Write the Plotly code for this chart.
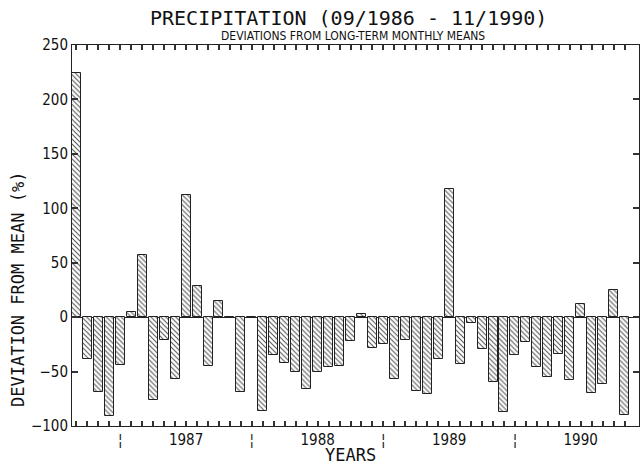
import pandas as pd
import plotly.graph_objects as go

# Monthly precipitation deviations from long-term monthly means (%), 09/1986 - 11/1990
months = pd.date_range("1986-09-01", "1990-11-01", freq="MS")
deviation_pct = [
    224, -38, -69, -91,                                          # 1986 Sep-Dec
    -44, 5, 57, -76, -21, -57, 112, 29, -45, 15, 0, -69,         # 1987
    0, -86, -35, -42, -50, -66, -50, -46, -45, -22, 2.5, -28,    # 1988
    -25, -57, -21, -68, -71, -38, 118, -43, -5, -29, -60, -87,   # 1989
    -35, -23, -46, -55, -34, -58, 12, -70, -61, 25, -90,         # 1990 Jan-Nov
]
y_ticks = [-100, -50, 0, 50, 100, 150, 200, 250]

idx = list(range(len(months)))

# Bottom axis text: year name in July, a break mark in January, blank otherwise
tick_text = []
for m in months:
    if m.month == 7:
        tick_text.append(str(m.year))
    elif m.month == 1:
        tick_text.append("¦")
    else:
        tick_text.append("")

PLOT_FONT = "DejaVu Sans Mono"
NARROW_FONT = "Liberation Sans Narrow, DejaVu Sans Condensed, sans-serif"
INK = "#222222"

fig = go.Figure(
    go.Bar(
        x=idx,
        y=deviation_pct,
        width=0.82,
        marker=dict(
            color="white",
            line=dict(color=INK, width=1),
            pattern=dict(shape="\\", size=3.5, solidity=0.3,
                         fgcolor="#555555", bgcolor="white"),
        ),
        showlegend=False,
    )
)

axis_common = dict(
    ticks="inside",
    tickcolor="#333333",
    tickwidth=2,
    showline=True,
    linecolor=INK,
    linewidth=1,
    mirror="allticks",
    showgrid=False,
    tickfont=dict(family=NARROW_FONT, size=15, color="#111111"),
)

fig.update_layout(
    template="none",
    width=640,
    height=465,
    margin=dict(l=72, r=1, t=45, b=39),
    paper_bgcolor="white",
    plot_bgcolor="white",
    bargap=0,
    xaxis=dict(
        range=[-0.41, len(months) + 0.32],
        tickmode="array",
        tickvals=idx,
        ticktext=tick_text,
        ticklen=5,
        zeroline=False,
        tickangle=0,
        **axis_common,
    ),
    yaxis=dict(
        range=[-100, 250],
        tickmode="array",
        tickvals=y_ticks,
        ticklen=6,
        zeroline=True,
        zerolinecolor=INK,
        zerolinewidth=1,
        **axis_common,
    ),
    annotations=[
        dict(text="PRECIPITATION (09/1986 - 11/1990)", xref="paper", yref="paper",
             x=0.487, y=1.072, xanchor="center", yanchor="middle", showarrow=False,
             font=dict(family=PLOT_FONT, size=20, color="#111111")),
        dict(text="DEVIATIONS FROM LONG-TERM MONTHLY MEANS", xref="paper", yref="paper",
             x=0.495, y=1.024, xanchor="center", yanchor="middle", showarrow=False,
             font=dict(family=NARROW_FONT, size=12, color="#111111")),
        dict(text="DEVIATION FROM MEAN (%)", xref="paper", yref="paper",
             x=-0.0952, y=0.357, xanchor="center", yanchor="middle", showarrow=False,
             textangle=-90,
             font=dict(family=PLOT_FONT, size=17, color="#111111")),
        dict(text="YEARS", xref="paper", yref="paper",
             x=0.492, y=-0.076, xanchor="center", yanchor="middle", showarrow=False,
             font=dict(family=PLOT_FONT, size=17, color="#111111")),
    ],
)

fig.write_html("out.html")
